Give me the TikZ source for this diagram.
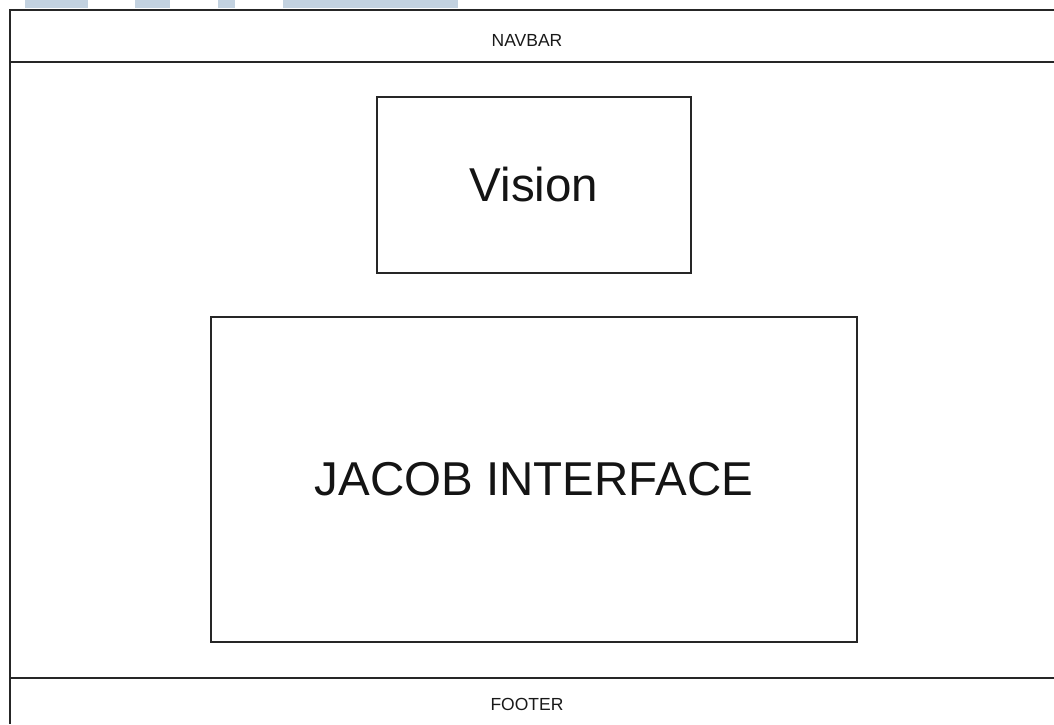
\documentclass[tikz,border=0pt]{standalone}
\usepackage{fontspec}
\setmainfont{Liberation Sans}
\definecolor{tabblue}{HTML}{C3D2E0}
\begin{document}
\begin{tikzpicture}[x=1pt,y=-1pt,
  frame/.style={draw=black!85,line width=1.3pt},
  box/.style={draw=black!85,line width=1.3pt,inner sep=0pt},
  small/.style={font=\fontsize{17.5}{20}\selectfont,text=black!90},
  big/.style={font=\fontsize{47.5}{52}\selectfont,text=black!92}]
\useasboundingbox (0,0) rectangle (1054,724);
% header tabs along the top edge
\fill[tabblue] (25,0) rectangle (88,8);
\fill[tabblue] (135,0) rectangle (170,8);
\fill[tabblue] (218,0) rectangle (235,8);
\fill[tabblue] (283,0) rectangle (458,8);
% page frame, open on the right and bottom
\draw[frame] (1054,10) -- (10,10) -- (10,724);
\draw[frame] (10,62) -- (1054,62);
\draw[frame] (10,678) -- (1054,678);
\node[small] (navbar) at (527,40) {NAVBAR};
\node[small] (footer) at (527,704) {FOOTER};
% content boxes
\node[box,minimum width=314pt,minimum height=176pt] (vision) at (534,185) {};
\node[big] (visiontext) at (vision.center) {Vision};
\node[box,minimum width=646pt,minimum height=325pt] (jacob) at (534,479.5) {};
\node[big] (jacobtext) at (jacob.center) {JACOB INTERFACE};
\end{tikzpicture}
\end{document}
